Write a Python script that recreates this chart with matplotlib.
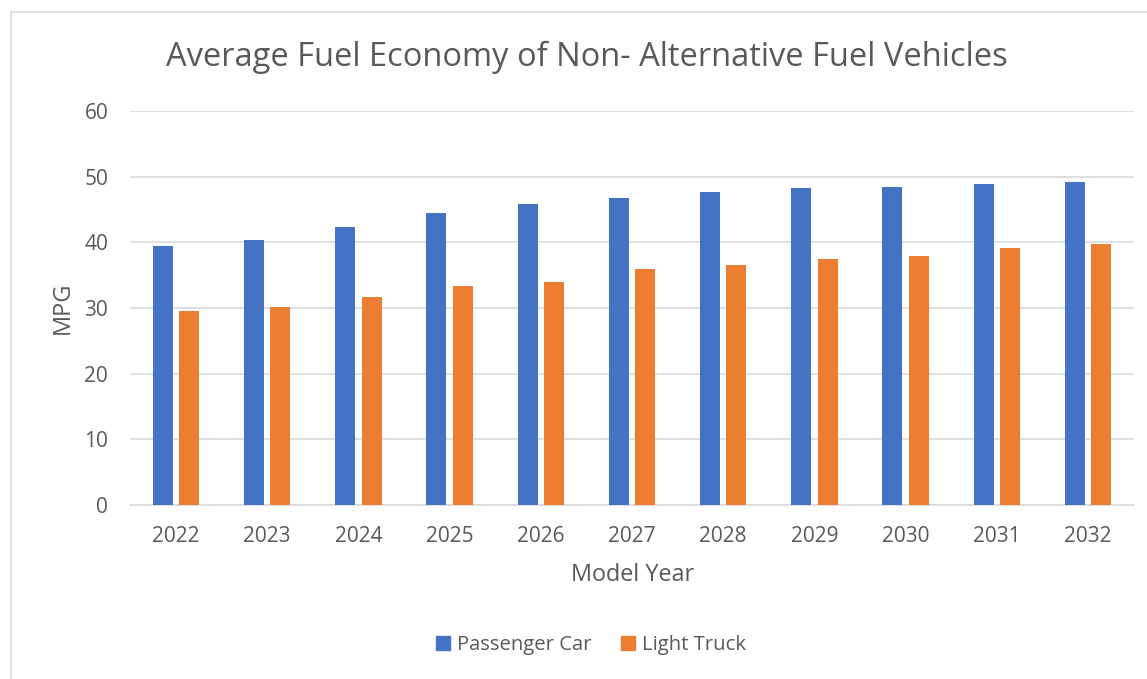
import matplotlib
matplotlib.use("Agg")
import matplotlib.pyplot as plt
from matplotlib.patches import Patch
from matplotlib.lines import Line2D
import numpy as np

years = ["2022", "2023", "2024", "2025", "2026", "2027", "2028", "2029", "2030", "2031", "2032"]
passenger_car = [39.4, 40.3, 42.3, 44.5, 45.8, 46.7, 47.6, 48.3, 48.5, 48.9, 49.2]
light_truck = [29.5, 30.1, 31.7, 33.4, 33.9, 35.9, 36.6, 37.4, 37.9, 39.2, 39.7]

blue = "#4472C4"
orange = "#ED7D31"
text_gray = "#595959"
grid_gray = "#D9D9D9"

plt.rcParams["font.family"] = ["Open Sans", "DejaVu Sans"]

fig = plt.figure(figsize=(11.47, 6.79), dpi=100)
ax = fig.add_axes([0.1137, 0.2563, 0.8746, 0.5802])

x = np.arange(len(years))
w = 0.22
ax.bar(x - 0.145, passenger_car, w, color=blue, zorder=3, label="Passenger Car")
ax.bar(x + 0.145, light_truck, w, color=orange, zorder=3, label="Light Truck")

ax.set_xlim(-0.5, len(years) - 0.5)
ax.set_ylim(0, 60)
ax.set_yticks(range(0, 61, 10))
ax.set_xticks(x)
ax.set_xticklabels(years)
ax.yaxis.grid(True, color=grid_gray, linewidth=1.2, zorder=0)
ax.tick_params(axis="both", length=0, labelsize=15, labelcolor=text_gray)
ax.tick_params(axis="y", pad=16)
ax.tick_params(axis="x", pad=15)
for s in ["top", "right", "left"]:
    ax.spines[s].set_visible(False)
ax.spines["bottom"].set_color(grid_gray)
ax.spines["bottom"].set_linewidth(1.2)

# axis titles placed in figure coords
fig.text(63 / 1147, 1 - 307.5 / 679, "MPG", rotation=90, ha="center", va="center",
         fontsize=17, color=text_gray)
fig.text(632.5 / 1147, 1 - 575 / 679, "Model Year", ha="center", va="center",
         fontsize=16.8, color=text_gray)

fig.text(586.5 / 1147, 1 - 57 / 679, "Average Fuel Economy of Non- Alternative Fuel Vehicles",
         ha="center", va="center", fontsize=23.5, color=text_gray)

handles = [Patch(color=blue), Patch(color=orange)]
fig.legend(handles, ["Passenger Car", "Light Truck"], loc="center",
           bbox_to_anchor=(591 / 1147, 1 - 645 / 679), ncol=2, frameon=False, fontsize=14.6,
           labelcolor=text_gray, handlelength=0.7, handleheight=0.7,
           handletextpad=0.35, columnspacing=1.45)

# chart border (light gray)
fig.add_artist(Line2D([11 / 1147, 11 / 1147], [0, 1 - 12 / 679], transform=fig.transFigure,
                      color=grid_gray, linewidth=1.2))
fig.add_artist(Line2D([11 / 1147, 1], [1 - 12 / 679, 1 - 12 / 679], transform=fig.transFigure,
                      color=grid_gray, linewidth=1.2))

fig.savefig("out.png", dpi=100)
